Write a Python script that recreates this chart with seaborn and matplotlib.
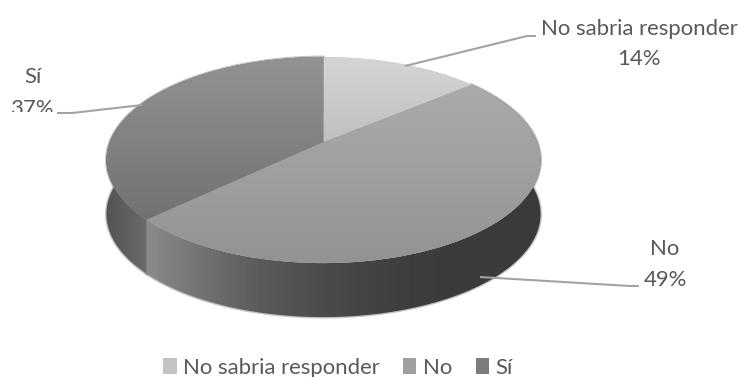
import numpy as np
import matplotlib
matplotlib.use("Agg")
import matplotlib.pyplot as plt
import seaborn as sns
from matplotlib.patches import Patch, Polygon
from matplotlib.transforms import Transform, Bbox, TransformedBbox

categories = ["No sabria responder", "No", "Sí"]
values = [14, 49, 37]
slice_colors = ["#c8c8c8", "#9c9c9c", "#808080"]
legend_colors = ["#c4c4c4", "#a0a0a0", "#7c7c7c"]

sns.set_theme(style="white")
plt.rcParams["font.family"] = ["Lato", "DejaVu Sans"]

W, H = 740, 377
CX, CY = 323.5, 142.0      # projected pie centre, pixels
A, B, K = 213.7, 99.9, 0.175
DEPTH = 54
TEXT = "#595959"
LEADER = "#a3a3a3"


def project(xy):
    u, v = xy[:, 0], xy[:, 1]
    d = 1 + K * v
    return np.column_stack((CX + A * u / d, CY - B * v / d))


class Perspective(Transform):
    input_dims = 2
    output_dims = 2

    def transform_non_affine(self, values):
        return project(np.asarray(values, dtype=float))


fig = plt.figure(figsize=(W / 100, H / 100), dpi=100, facecolor="white")
ax = fig.add_axes([0, 0, 1, 1])
palette = sns.color_palette(slice_colors)
wedges, _ = ax.pie(values, colors=palette, startangle=90, counterclock=False,
                   radius=1, wedgeprops=dict(linewidth=0))
ax.set_aspect("auto")

persp = Perspective() + ax.transData
for w in wedges:
    w.set_transform(persp)
    w.set_zorder(3)


def side_polygon(wedge):
    t = np.radians(np.linspace(wedge.theta1, wedge.theta2, 240))
    top = project(np.column_stack((np.cos(t), np.sin(t))))
    low = top + [0, DEPTH]
    return np.vstack((top, low[::-1]))


def hgrad(stops_x, stops_v):
    return np.interp(np.arange(W), stops_x, stops_v)[None, :]


def vgrad(stops_y, stops_v):
    return np.interp(np.arange(H), stops_y, stops_v)[:, None]


extent = (0, W, H, 0)
gray = dict(cmap="gray", vmin=0, vmax=255, extent=extent, aspect="auto", origin="upper")

# Side walls (horizontal shading) with a soft edge
side_shades = {
    1: hgrad([146, 200, 260, 340, 420, 545], [138, 115, 90, 72, 60, 58]),
    2: hgrad([105, 150], [82, 110]),
}
for idx, shade in side_shades.items():
    pts = side_polygon(wedges[idx])
    ax.add_patch(Polygon(pts, facecolor="none", edgecolor="#555555", alpha=0.35,
                         lw=2, zorder=1))
    im = ax.imshow(shade, zorder=2, **gray)
    im.set_clip_path(Polygon(pts, transform=ax.transData))

# Top faces (vertical shading)
top_shades = [
    vgrad([57, 145], [212, 190]),
    vgrad([85, 265], [170, 146]),
    vgrad([57, 225], [146, 112]),
]
for w, shade in zip(wedges, top_shades):
    im = ax.imshow(shade, zorder=4, **gray)
    im.set_clip_path(w)

# Leader lines
for xs, ys in [([405, 527, 536], [66, 36, 36]),
               ([142, 72, 57], [105, 113, 113]),
               ([480, 630, 639], [277, 286, 286])]:
    ax.plot(xs, ys, color=LEADER, lw=1.5, zorder=5, solid_capstyle="butt")

# Data labels
fs = 15.9
style = dict(ha="center", va="center", color=TEXT, fontsize=fs, zorder=6)
ax.text(639, 29, categories[0], **style)
ax.text(639, 59, f"{values[0]}%", **style)
ax.text(665, 249, categories[1], **style)
ax.text(665, 280, f"{values[1]}%", **style)
ax.text(33, 77, categories[2], **style)
t37 = ax.text(33, 109, f"{values[2]}%", **style)
t37.set_clip_box(TransformedBbox(Bbox([[12, 90], [60, 112]]), ax.transData))
t37.set_clip_on(True)

ax.set_xlim(0, W)
ax.set_ylim(H, 0)
ax.axis("off")

handles = [Patch(facecolor=c, edgecolor="none") for c in legend_colors]
ax.legend(handles, categories, loc="center", bbox_to_anchor=(338 / W, 1 - 367.5 / H),
          ncol=3, frameon=False, fontsize=fs, labelcolor=TEXT, handlelength=0.6,
          handleheight=0.7, handletextpad=0.3, columnspacing=1.05, borderpad=0)

fig.savefig("out.png", dpi=100, facecolor="white")
